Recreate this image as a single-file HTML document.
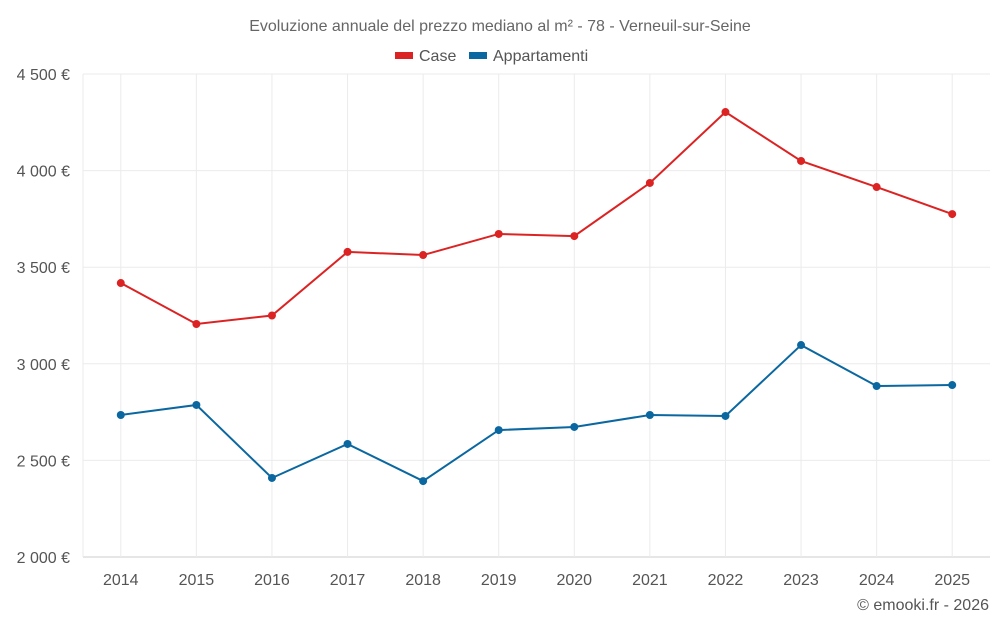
<!DOCTYPE html>
<html><head><meta charset="utf-8"><style>
body{margin:0;background:#fff;font-family:"Liberation Sans",sans-serif}
svg text{font-family:"Liberation Sans",sans-serif}
</style></head><body>
<svg id="chart" width="1000" height="625" xmlns="http://www.w3.org/2000/svg">
<text x="500" y="31" text-anchor="middle" font-size="16" fill="#666">Evoluzione annuale del prezzo mediano al m² - 78 - Verneuil-sur-Seine</text>
<g>
<g><rect x="395" y="52" width="18" height="7" fill="#dc2323"/><text x="419" y="61" font-size="16" fill="#555">Case</text></g>
<g><rect x="469" y="52" width="18" height="7" fill="#0a67a0"/><text x="493" y="61" font-size="16" fill="#555">Appartamenti</text></g>
</g>
<g id="grid"></g>
<g id="axes"></g>
<g id="series"></g>
<text x="989" y="610" text-anchor="end" font-size="16" fill="#555">© emooki.fr - 2026</text>
</svg>
<script>
const years=["2014","2015","2016","2017","2018","2019","2020","2021","2022","2023","2024","2025"];
const caseValues=[3418,3206,3250,3579,3563,3672,3661,3936,4303,4050,3915,3775];
const apptValues=[2735,2787,2409,2585,2393,2657,2673,2735,2730,3097,2885,2890];
const yTicks=[2000,2500,3000,3500,4000,4500];
const yTickLabels=["2 000 €","2 500 €","3 000 €","3 500 €","4 000 €","4 500 €"];
const NS="http://www.w3.org/2000/svg";
const L=83,R=990,T=74,B=557,ymin=2000,ymax=4500;
const step=(R-L)/years.length;
function x(i){return L+step*(i+0.5);}
function y(v){return B-(v-ymin)/(ymax-ymin)*(B-T);}
function mk(tag,attrs,parent){const e=document.createElementNS(NS,tag);for(const k in attrs)e.setAttribute(k,attrs[k]);parent.appendChild(e);return e;}
const grid=document.getElementById('grid'),axes=document.getElementById('axes'),series=document.getElementById('series');
yTicks.forEach((t,i)=>{
 const l=mk('line',{x1:L,x2:R,y1:y(t),y2:y(t),stroke:i==0?'#ccc':'#ebebeb'},grid);
 
 
 const tx=mk('text',{x:70,y:y(t)+6,'text-anchor':'end','font-size':16,fill:'#555'},axes);
 tx.textContent=yTickLabels[i];
 
 
});
const edge=mk('line',{x1:L,x2:L,y1:T,y2:B,stroke:'#ebebeb'},grid);


years.forEach((yr,i)=>{
 const l=mk('line',{x1:x(i),x2:x(i),y1:T,y2:B,stroke:'#ebebeb'},grid);
 
 
 const tx=mk('text',{x:x(i),y:585,'text-anchor':'middle','font-size':16,fill:'#555'},axes);
 tx.textContent=yr;
 
 
});
function draw(vals,color,name){
 const p=mk('polyline',{points:vals.map((v,i)=>x(i)+','+y(v)).join(' '),fill:'none',stroke:color,'stroke-width':2},series);
 
 
 vals.forEach((v,i)=>{
  const c=mk('circle',{cx:x(i),cy:y(v),r:4,fill:color},series);
  
  
 });
}
draw(caseValues,'#dc2323','case');
draw(apptValues,'#0a67a0','appartamenti');
</script>
</body></html>
